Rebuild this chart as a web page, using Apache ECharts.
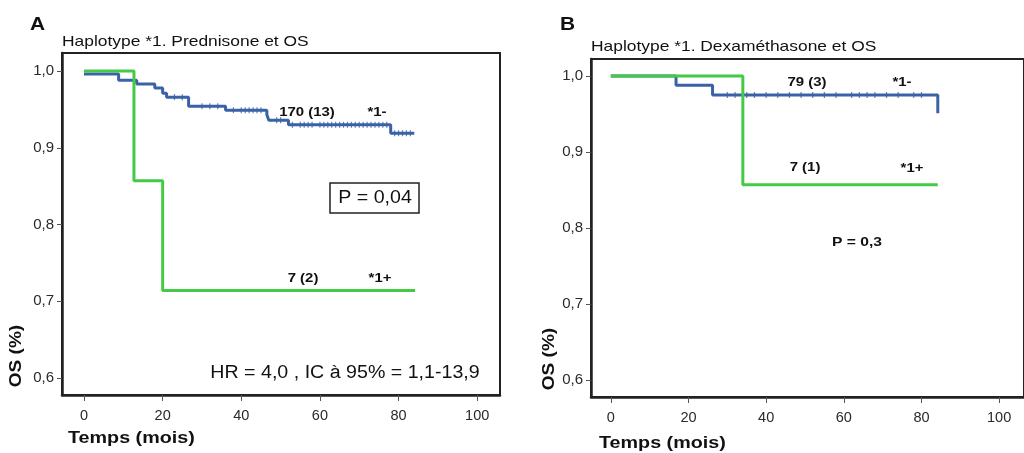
<!DOCTYPE html>
<html><head><meta charset="utf-8">
<script src="https://cdn.jsdelivr.net/npm/echarts@6/dist/echarts.min.js"></script>
<style>html,body{margin:0;padding:0;background:#fff}#c{width:1024px;height:453px}</style>
</head><body><div id="c"></div>
<script>
// ---- data ----
var xTicks = [0, 20, 40, 60, 80, 100];
var yTicks = [0.6, 0.7, 0.8, 0.9, 1.0];
// Panel A (Prednisone)
var aNegTime = [0, 8.8, 13.4, 18, 20, 21, 26.6, 36, 46.5, 47, 52, 78, 84];
var aNegSurv = [0.996, 0.988, 0.983, 0.978, 0.971, 0.966, 0.954, 0.949, 0.943, 0.936, 0.930, 0.919, 0.919];
var aNegCens = [23, 25, 30, 32, 34, 38, 40, 41, 42, 43, 44, 45, 49, 50, 53, 55, 56, 57, 58, 60, 61, 62, 63, 64, 65, 66, 67, 68, 69, 70, 71, 72, 73, 74, 75, 76, 77, 79, 80, 81, 82, 83];
var aPosTime = [0, 12.7, 20, 84.2];
var aPosSurv = [1.0, 0.857, 0.714, 0.714];
// Panel B (Dexamethasone)
var bNegTime = [0, 16.8, 26.2, 84.2];
var bNegSurv = [1.0, 0.988, 0.975, 0.951];
var bNegCens = [30, 32, 35, 37, 40, 43, 46, 49, 52, 55, 58, 62, 64, 66, 68, 71, 74, 78, 80];
var bPosTime = [0, 34, 84.2];
var bPosSurv = [1.0, 0.857, 0.857];

var BLUE = '#3a62a6', GREEN = '#44ca44', FONT = '"Liberation Sans", Arial, sans-serif';

function pairs(t, s) { return t.map(function (v, i) { return [v, s[i]]; }); }
function survAt(t, s, x) { var v = s[0]; for (var i = 0; i < t.length; i++) { if (t[i] <= x) v = s[i]; } return v; }
function censPts(t, s, c) { return c.map(function (x) { return [x, survAt(t, s, x)]; }); }

function xAx(idx, min, max) {
  return {
    gridIndex: idx, type: 'value', min: min, max: max,
    axisLine: { show: true, onZero: false, lineStyle: { color: '#222', width: 2.5 } },
    axisTick: { show: true, length: 6, lineStyle: { color: '#555', width: 1 }, customValues: xTicks },
    axisLabel: { customValues: xTicks, color: '#2a2a2a', fontSize: 14.5, fontFamily: FONT, margin: 13 },
    splitLine: { show: false }
  };
}
function yAx(idx, min, max) {
  return {
    gridIndex: idx, type: 'value', min: min, max: max,
    axisLine: { show: true, onZero: false, lineStyle: { color: '#222', width: 2.5 } },
    axisTick: { show: true, length: 5, lineStyle: { color: '#555', width: 1 }, customValues: yTicks },
    axisLabel: { customValues: yTicks, color: '#2a2a2a', fontSize: 15, fontFamily: FONT, margin: 8,
      formatter: function (v) { return v.toFixed(1).replace('.', ','); } },
    splitLine: { show: false }
  };
}
function stepSeries(idx, t, s, color, z) {
  return { type: 'line', xAxisIndex: idx, yAxisIndex: idx, step: 'end', data: pairs(t, s),
    symbol: 'none', lineStyle: { color: color, width: 3 }, z: z, animation: false };
}
function censSeries(idx, t, s, c, color) {
  return { type: 'scatter', xAxisIndex: idx, yAxisIndex: idx, data: censPts(t, s, c),
    symbol: 'rect', symbolSize: [1.2, 6], itemStyle: { color: color }, z: 3, animation: false };
}
function txt(x, y, s, size, bold, sx, extra) {
  var o = { type: 'text', x: x, y: y, scaleX: sx || 1, style: { text: s, fill: '#111', font: (bold ? 'bold ' : '') + size + 'px ' + FONT,
    textAlign: 'center', textVerticalAlign: 'middle' }, z: 10 };
  if (extra) for (var k in extra) o[k] = extra[k];
  return o;
}
function ltxt(x, y, s, size, bold, sx) {
  return { type: 'text', x: x, y: y, scaleX: sx || 1, style: { text: s, fill: '#111', font: (bold ? 'bold ' : '') + size + 'px ' + FONT,
    textAlign: 'left', textVerticalAlign: 'middle' }, z: 10 };
}

var chart = echarts.init(document.getElementById('c'), null, { renderer: 'canvas' });
chart.setOption({
  animation: false,
  backgroundColor: '#fff',
  grid: [
    { left: 62, top: 53, width: 438, height: 342, show: true, borderColor: '#222', borderWidth: 2, backgroundColor: 'transparent' },
    { left: 591, top: 59, width: 438, height: 338, show: true, borderColor: '#222', borderWidth: 2, backgroundColor: 'transparent' }
  ],
  xAxis: [xAx(0, -5.6, 105.8), xAx(1, -5.1, 106.4)],
  yAxis: [yAx(0, 0.578, 1.0235), yAx(1, 0.5776, 1.0224)],
  series: [
    stepSeries(0, aNegTime, aNegSurv, BLUE, 2),
    censSeries(0, aNegTime, aNegSurv, aNegCens, BLUE),
    stepSeries(0, aPosTime, aPosSurv, GREEN, 4),
    stepSeries(1, bNegTime, bNegSurv, BLUE, 2),
    censSeries(1, bNegTime, bNegSurv, bNegCens, BLUE),
    stepSeries(1, bPosTime, bPosSurv, GREEN, 4)
  ],
  graphic: [
    ltxt(30, 25, 'A', 19, true, 1.1),
    ltxt(62, 42, 'Haplotype *1. Prednisone et OS', 14.5, false, 1.2),
    txt(16, 356, 'OS (%)', 17, true, 1.12, { rotation: Math.PI / 2 }),
    ltxt(68, 438, 'Temps (mois)', 17, true, 1.16),
    txt(307, 112, '170 (13)', 13, true, 1.15),
    txt(377, 112, '*1-', 13, true, 1.15),
    { type: 'rect', shape: { x: 330, y: 183, width: 89, height: 30 }, style: { fill: '#fff', stroke: '#222', lineWidth: 1.5 }, z: 9 },
    txt(375, 198, 'P = 0,04', 18, false, 1.09),
    txt(303, 278, '7 (2)', 13, true, 1.15),
    txt(380, 278, '*1+', 13, true, 1.15),
    txt(345, 373, 'HR = 4,0 , IC à 95% = 1,1-13,9', 18, false, 1.09),

    ltxt(560, 25, 'B', 19, true, 1.1),
    ltxt(591, 47, 'Haplotype *1. Dexaméthasone et OS', 14.5, false, 1.2),
    txt(549, 359, 'OS (%)', 17, true, 1.12, { rotation: Math.PI / 2 }),
    ltxt(599, 443, 'Temps (mois)', 17, true, 1.16),
    txt(807, 82, '79 (3)', 13, true, 1.15),
    txt(902, 82, '*1-', 13, true, 1.15),
    txt(805, 167, '7 (1)', 13, true, 1.15),
    txt(912, 168, '*1+', 13, true, 1.15),
    txt(857, 242, 'P = 0,3', 13, true, 1.2)
  ]
});
</script></body></html>
